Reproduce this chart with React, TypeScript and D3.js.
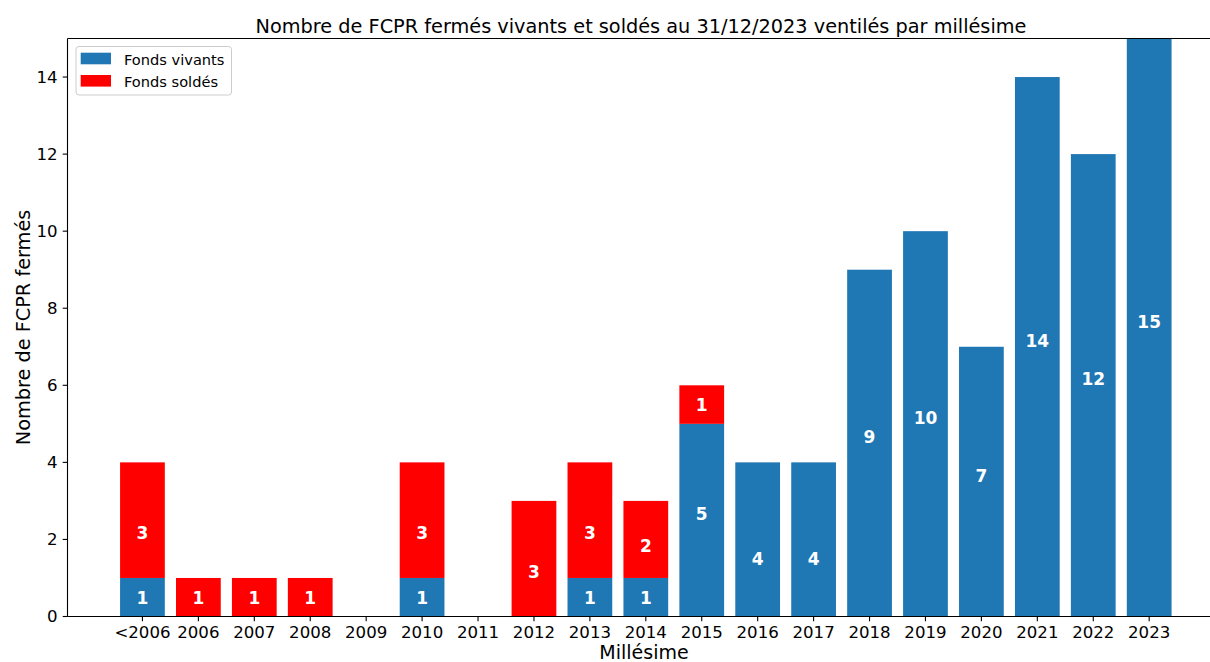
import React from "react";
import * as d3 from "d3";

const categories = ["<2006", "2006", "2007", "2008", "2009", "2010", "2011", "2012", "2013", "2014", "2015", "2016", "2017", "2018", "2019", "2020", "2021", "2022", "2023"];
const fondsVivants = [1, 0, 0, 0, 0, 1, 0, 0, 1, 1, 5, 4, 4, 9, 10, 7, 14, 12, 15];
const fondsSoldes = [3, 1, 1, 1, 0, 3, 0, 3, 3, 2, 1, 0, 0, 0, 0, 0, 0, 0, 0];
const yTicks = [0, 2, 4, 6, 8, 10, 12, 14];

const TITLE = "Nombre de FCPR fermés vivants et soldés au 31/12/2023 ventilés par millésime";
const X_LABEL = "Millésime";
const Y_LABEL = "Nombre de FCPR fermés";
const LEGEND = ["Fonds vivants", "Fonds soldés"];

const BLUE = "#1f77b4";
const RED = "#ff0000";
const FONT = "DejaVu Sans, sans-serif";

export default function App() {
  const W = 1210, H = 662;
  const left = 67.5, top = 38.5, bottom = 616.5;
  const step = 55.93;
  const n = categories.length;
  const margin = 0.4 + 0.05 * (n - 1 + 0.8);
  const right = left + (n - 1 + 2 * margin) * step;

  const x = d3.scaleLinear().domain([-margin, n - 1 + margin]).range([left, right]);
  const y = d3.scaleLinear().domain([0, 15]).range([bottom, top]);
  const bw = 0.8 * step;

  const labelFrac = (v: number, isBlue: boolean) => (isBlue ? (v > 4 ? 1 / 2 : 1 / 3) : 1 / 3);

  return (
    <svg width={W} height={H} style={{ position: "absolute", left: 0, top: 0, background: "#fff" }} fontFamily={FONT}>
      <rect x={0} y={0} width={W} height={H} fill="#fff" />
      {/* bars */}
      {categories.map((c, i) => {
        const v = fondsVivants[i];
        const s = fondsSoldes[i];
        const cx = x(i);
        return (
          <g key={c}>
            {v > 0 && (
              <rect x={cx - bw / 2} y={y(v)} width={bw} height={y(0) - y(v)} fill={BLUE} />
            )}
            {s > 0 && (
              <rect x={cx - bw / 2} y={y(v + s)} width={bw} height={y(v) - y(v + s)} fill={RED} />
            )}
          </g>
        );
      })}
      {/* value labels */}
      {categories.map((c, i) => {
        const v = fondsVivants[i];
        const s = fondsSoldes[i];
        const cx = x(i);
        return (
          <g key={"l" + c} fill="#fff" fontWeight="bold" fontSize={17} textAnchor="middle">
            {v > 0 && <text x={cx} y={y(v * labelFrac(v, true))}>{v}</text>}
            {s > 0 && <text x={cx} y={y(v + s * labelFrac(s, false))}>{s}</text>}
          </g>
        );
      })}
      {/* spines */}
      <line x1={left} x2={left} y1={top} y2={bottom} stroke="#000" strokeWidth={1.1} />
      <line x1={left} x2={right} y1={bottom} y2={bottom} stroke="#000" strokeWidth={1.1} />
      <line x1={left} x2={right} y1={top} y2={top} stroke="#000" strokeWidth={1.1} />
      <line x1={right} x2={right} y1={top} y2={bottom} stroke="#000" strokeWidth={1.1} />
      {/* y ticks */}
      {yTicks.map((t) => (
        <g key={"y" + t}>
          <line x1={left - 4.8} x2={left} y1={y(t)} y2={y(t)} stroke="#000" strokeWidth={1.1} />
          <text x={left - 10} y={y(t)} dy="0.36em" textAnchor="end" fontSize={16.6} fill="#000">{t}</text>
        </g>
      ))}
      {/* x ticks */}
      {categories.map((c, i) => (
        <g key={"x" + c}>
          <line x1={x(i)} x2={x(i)} y1={bottom} y2={bottom + 4.8} stroke="#000" strokeWidth={1.1} />
          <text x={x(i)} y={638} textAnchor="middle" fontSize={16.6} fill="#000">{c}</text>
        </g>
      ))}
      {/* axis labels */}
      <text x={644} y={659} textAnchor="middle" fontSize={19} fill="#000">{X_LABEL}</text>
      <text transform={`translate(29.5,${(top + bottom) / 2}) rotate(-90)`} textAnchor="middle" fontSize={19.3} fill="#000">{Y_LABEL}</text>
      {/* title */}
      <text x={641} y={33} textAnchor="middle" fontSize={19.3} fill="#000">{TITLE}</text>
      {/* legend */}
      <g>
        <rect x={76} y={46.5} width={155.5} height={48.5} rx={3} fill="#fff" fillOpacity={0.8} stroke="#cccccc" strokeWidth={1} />
        <rect x={80.7} y={52.7} width={30.3} height={11.6} fill={BLUE} />
        <rect x={80.7} y={75} width={30.3} height={11.6} fill={RED} />
        <text x={124} y={64.8} fontSize={14.6} fill="#000">{LEGEND[0]}</text>
        <text x={124} y={86.8} fontSize={14.6} fill="#000">{LEGEND[1]}</text>
      </g>
    </svg>
  );
}
